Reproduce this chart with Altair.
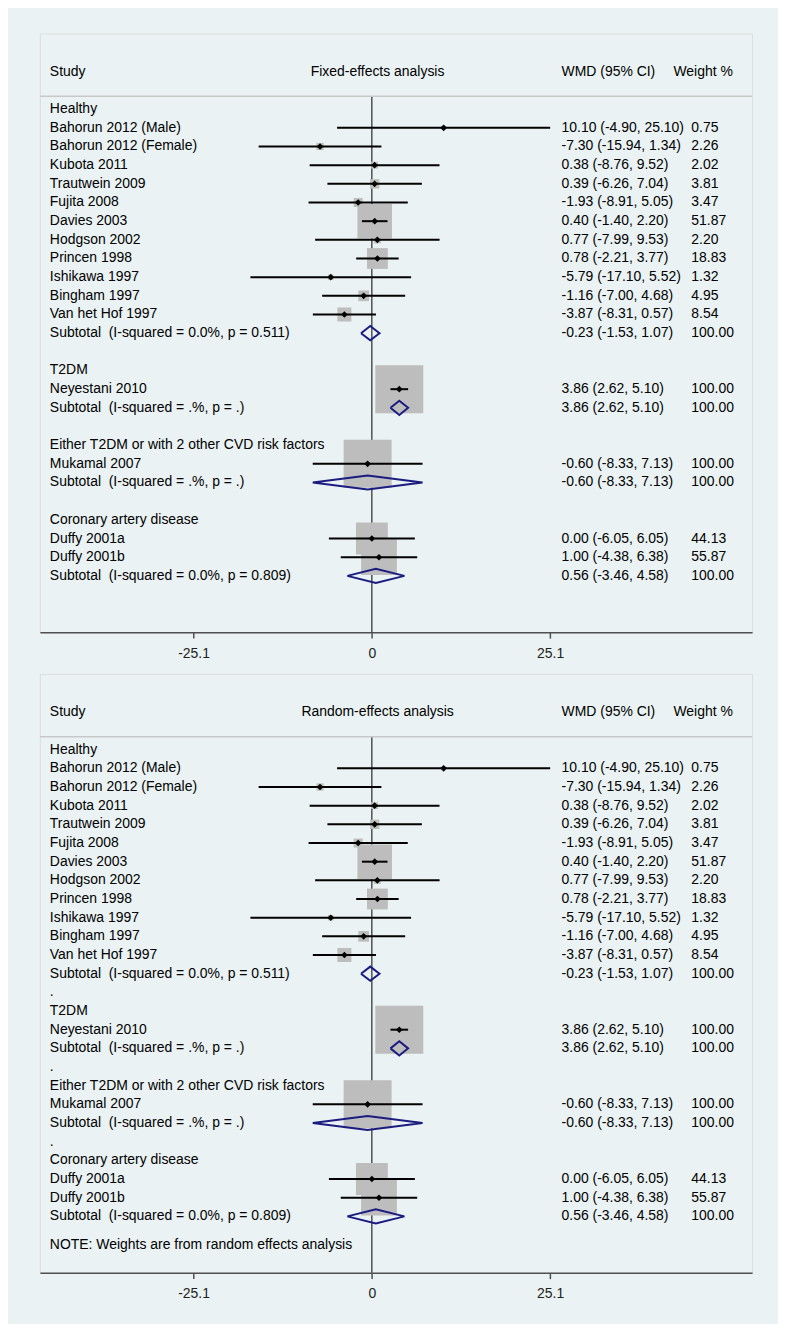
import altair as alt
import pandas as pd

# ---------------- data ----------------
GROUPS = ["Healthy", "T2DM", "Either T2DM or with 2 other CVD risk factors", "Coronary artery disease"]

STUDIES = ["Bahorun 2012 (Male)", "Bahorun 2012 (Female)", "Kubota 2011", "Trautwein 2009",
           "Fujita 2008", "Davies 2003", "Hodgson 2002", "Princen 1998", "Ishikawa 1997",
           "Bingham 1997", "Van het Hof 1997", "Neyestani 2010", "Mukamal 2007",
           "Duffy 2001a", "Duffy 2001b"]
STUDY_GROUP = [0, 0, 0, 0, 0, 0, 0, 0, 0, 0, 0, 1, 2, 3, 3]
WMD = [10.10, -7.30, 0.38, 0.39, -1.93, 0.40, 0.77, 0.78, -5.79, -1.16, -3.87, 3.86, -0.60, 0.00, 1.00]
LCL = [-4.90, -15.94, -8.76, -6.26, -8.91, -1.40, -7.99, -2.21, -17.10, -7.00, -8.31, 2.62, -8.33, -6.05, -4.38]
UCL = [25.10, 1.34, 9.52, 7.04, 5.05, 2.20, 9.53, 3.77, 5.52, 4.68, 0.57, 5.10, 7.13, 6.05, 6.38]
WEIGHT = [0.75, 2.26, 2.02, 3.81, 3.47, 51.87, 2.20, 18.83, 1.32, 4.95, 8.54, 100.00, 100.00, 44.13, 55.87]

SUB_WMD = [-0.23, 3.86, -0.60, 0.56]
SUB_LCL = [-1.53, 2.62, -8.33, -3.46]
SUB_UCL = [1.07, 5.10, 7.13, 4.58]
SUB_WEIGHT = [100.00, 100.00, 100.00, 100.00]
SUB_I2 = ["0.0%", ".%", ".%", "0.0%"]
SUB_P = ["0.511", ".", ".", "0.809"]

PANEL_TITLES = ["Fixed-effects analysis", "Random-effects analysis"]
HEADERS = ["Study", "WMD (95% CI)", "Weight %"]
NOTE = "NOTE: Weights are from random effects analysis"
AXIS_TICKS = [-25.1, 0, 25.1]

# ---------------- layout constants ----------------
W, H = 715, 601
ROW_PX = 18.74
ROW0_PX = 76.0
SEP_PX = 63
X_ZERO_PX = 333.3
X_PX_PER_UNIT = 7.131
FONT = "Liberation Sans"
NAVY = "#1c1c80"
TXT = "#000000"

XS = alt.Scale(domain=[-X_ZERO_PX / X_PX_PER_UNIT, (W - X_ZERO_PX) / X_PX_PER_UNIT], nice=False, zero=False)
YS = alt.Scale(domain=[-ROW0_PX / ROW_PX, (H - ROW0_PX) / ROW_PX], nice=False, zero=False, reverse=True)

AX = alt.Axis(values=AXIS_TICKS, title=None, grid=False, domainColor="#505050", domainWidth=1.5,
              tickColor="#505050", tickWidth=1.5, tickSize=6, labelFontSize=14, labelColor="#222222",
              labelPadding=8, labelFont=FONT, labelFlush=False, labelOverlap=False,
              labelExpr="datum.value < 0 ? '-' + format(-datum.value, '.1f') : (datum.value == 0 ? '0' : format(datum.value, '.1f'))")


def fmt_ci(e, lo, hi):
    return f"{e:.2f} ({lo:.2f}, {hi:.2f})"


def build_rows(spacer_label, note):
    rows, diam = [], []
    r = 0
    for g, gname in enumerate(GROUPS):
        rows.append(dict(r=r, label=gname, kind="head"))
        r += 1
        for i, s in enumerate(STUDIES):
            if STUDY_GROUP[i] != g:
                continue
            rows.append(dict(r=r, label=s, kind="study", est=WMD[i], lcl=LCL[i], ucl=UCL[i],
                             w=WEIGHT[i], ci=fmt_ci(WMD[i], LCL[i], UCL[i]), wt=f"{WEIGHT[i]:.2f}"))
            r += 1
        rows.append(dict(r=r, label=f"Subtotal\u00a0 (I-squared = {SUB_I2[g]}, p = {SUB_P[g]})",
                         kind="sub", est=SUB_WMD[g], lcl=SUB_LCL[g], ucl=SUB_UCL[g],
                         w=SUB_WEIGHT[g], ci=fmt_ci(SUB_WMD[g], SUB_LCL[g], SUB_UCL[g]),
                         wt=f"{SUB_WEIGHT[g]:.2f}"))
        h = 0.38
        pts = [(SUB_LCL[g], r), (SUB_WMD[g], r - h), (SUB_UCL[g], r), (SUB_WMD[g], r + h), (SUB_LCL[g], r)]
        for k, (dx, dy) in enumerate(pts):
            diam.append(dict(g=g, k=k, dx=dx, dy=dy))
        r += 1
        if g < len(GROUPS) - 1:
            if spacer_label:
                rows.append(dict(r=r, label=spacer_label, kind="spacer"))
            r += 1
    if note:
        rows.append(dict(r=r - 1 + 1.55, label=note, kind="note"))
    return pd.DataFrame(rows), pd.DataFrame(diam)


def make_panel(title, spacer_label, note):
    df, dd = build_rows(spacer_label, note)
    studies = df[df.kind == "study"]
    valued = df[df.kind.isin(["study", "sub"])]
    one = pd.DataFrame({"x": [0]})

    y = alt.Y("r:Q", scale=YS, axis=None)

    zero = alt.Chart(one).mark_rule(color="black", strokeWidth=1).encode(
        x=alt.X("x:Q", scale=XS, axis=AX), y=alt.value(SEP_PX), y2=alt.value(H))
    sep = alt.Chart(one).mark_rule(color="#c8c8c8", strokeWidth=1.5).encode(
        x=alt.value(0), x2=alt.value(W), y=alt.value(SEP_PX))
    squares = alt.Chart(studies).mark_square(color="#bdbdbd", opacity=1).encode(
        x=alt.X("est:Q", scale=XS, axis=AX), y=y,
        size=alt.Size("w:Q", scale=alt.Scale(domain=[0, 100], range=[0, 2320]), legend=None))
    ci = alt.Chart(studies).mark_rule(color="black", strokeWidth=2).encode(
        x=alt.X("lcl:Q", scale=XS, axis=AX), x2="ucl:Q", y=y)
    pts = alt.Chart(studies).mark_point(filled=True, shape="diamond", color="black", size=44, opacity=1).encode(
        x=alt.X("est:Q", scale=XS, axis=AX), y=y)
    diamonds = alt.Chart(dd).mark_line(color=NAVY, strokeWidth=2).encode(
        x=alt.X("dx:Q", scale=XS, axis=AX), y=alt.Y("dy:Q", scale=YS, axis=None),
        order="k:Q", detail="g:N")

    tkw = dict(align="left", baseline="middle", fontSize=14, font=FONT, color=TXT)
    labels = alt.Chart(df).mark_text(**tkw).encode(x=alt.value(10), y=y, text="label:N")
    citxt = alt.Chart(valued).mark_text(**tkw).encode(x=alt.value(523.7), y=y, text="ci:N")
    wtxt = alt.Chart(valued).mark_text(**tkw).encode(x=alt.value(654), y=y, text="wt:N")

    hdr_r = -2.0
    hdf = pd.DataFrame({"r": [hdr_r], "t0": [HEADERS[0]], "t1": [title], "t2": [HEADERS[1]], "t3": [HEADERS[2]]})
    h0 = alt.Chart(hdf).mark_text(**tkw).encode(x=alt.value(10), y=y, text="t0:N")
    h1 = alt.Chart(hdf).mark_text(baseline="middle", align="center", fontSize=14, font=FONT,
                                  color=TXT).encode(x=alt.value(339), y=y, text="t1:N")
    h2 = alt.Chart(hdf).mark_text(**tkw).encode(x=alt.value(523.7), y=y, text="t2:N")
    h3 = alt.Chart(hdf).mark_text(**tkw).encode(x=alt.value(636), y=y, text="t3:N")

    return alt.layer(zero, sep, squares, ci, pts, diamonds, labels, citxt, wtxt, h0, h1, h2, h3).properties(
        width=W, height=H)


top = make_panel(PANEL_TITLES[0], "", None)
bottom = make_panel(PANEL_TITLES[1], ".", NOTE)

chart = alt.vconcat(top, bottom, spacing=42, bounds="flush").properties(
    background="#EAF2F3",
    padding={"left": 30, "top": 22, "right": 24, "bottom": 20},
).configure_view(fill="white", stroke=None).configure(font=FONT)

chart.save("out.html", embed_options={"renderer": "svg", "actions": False})
